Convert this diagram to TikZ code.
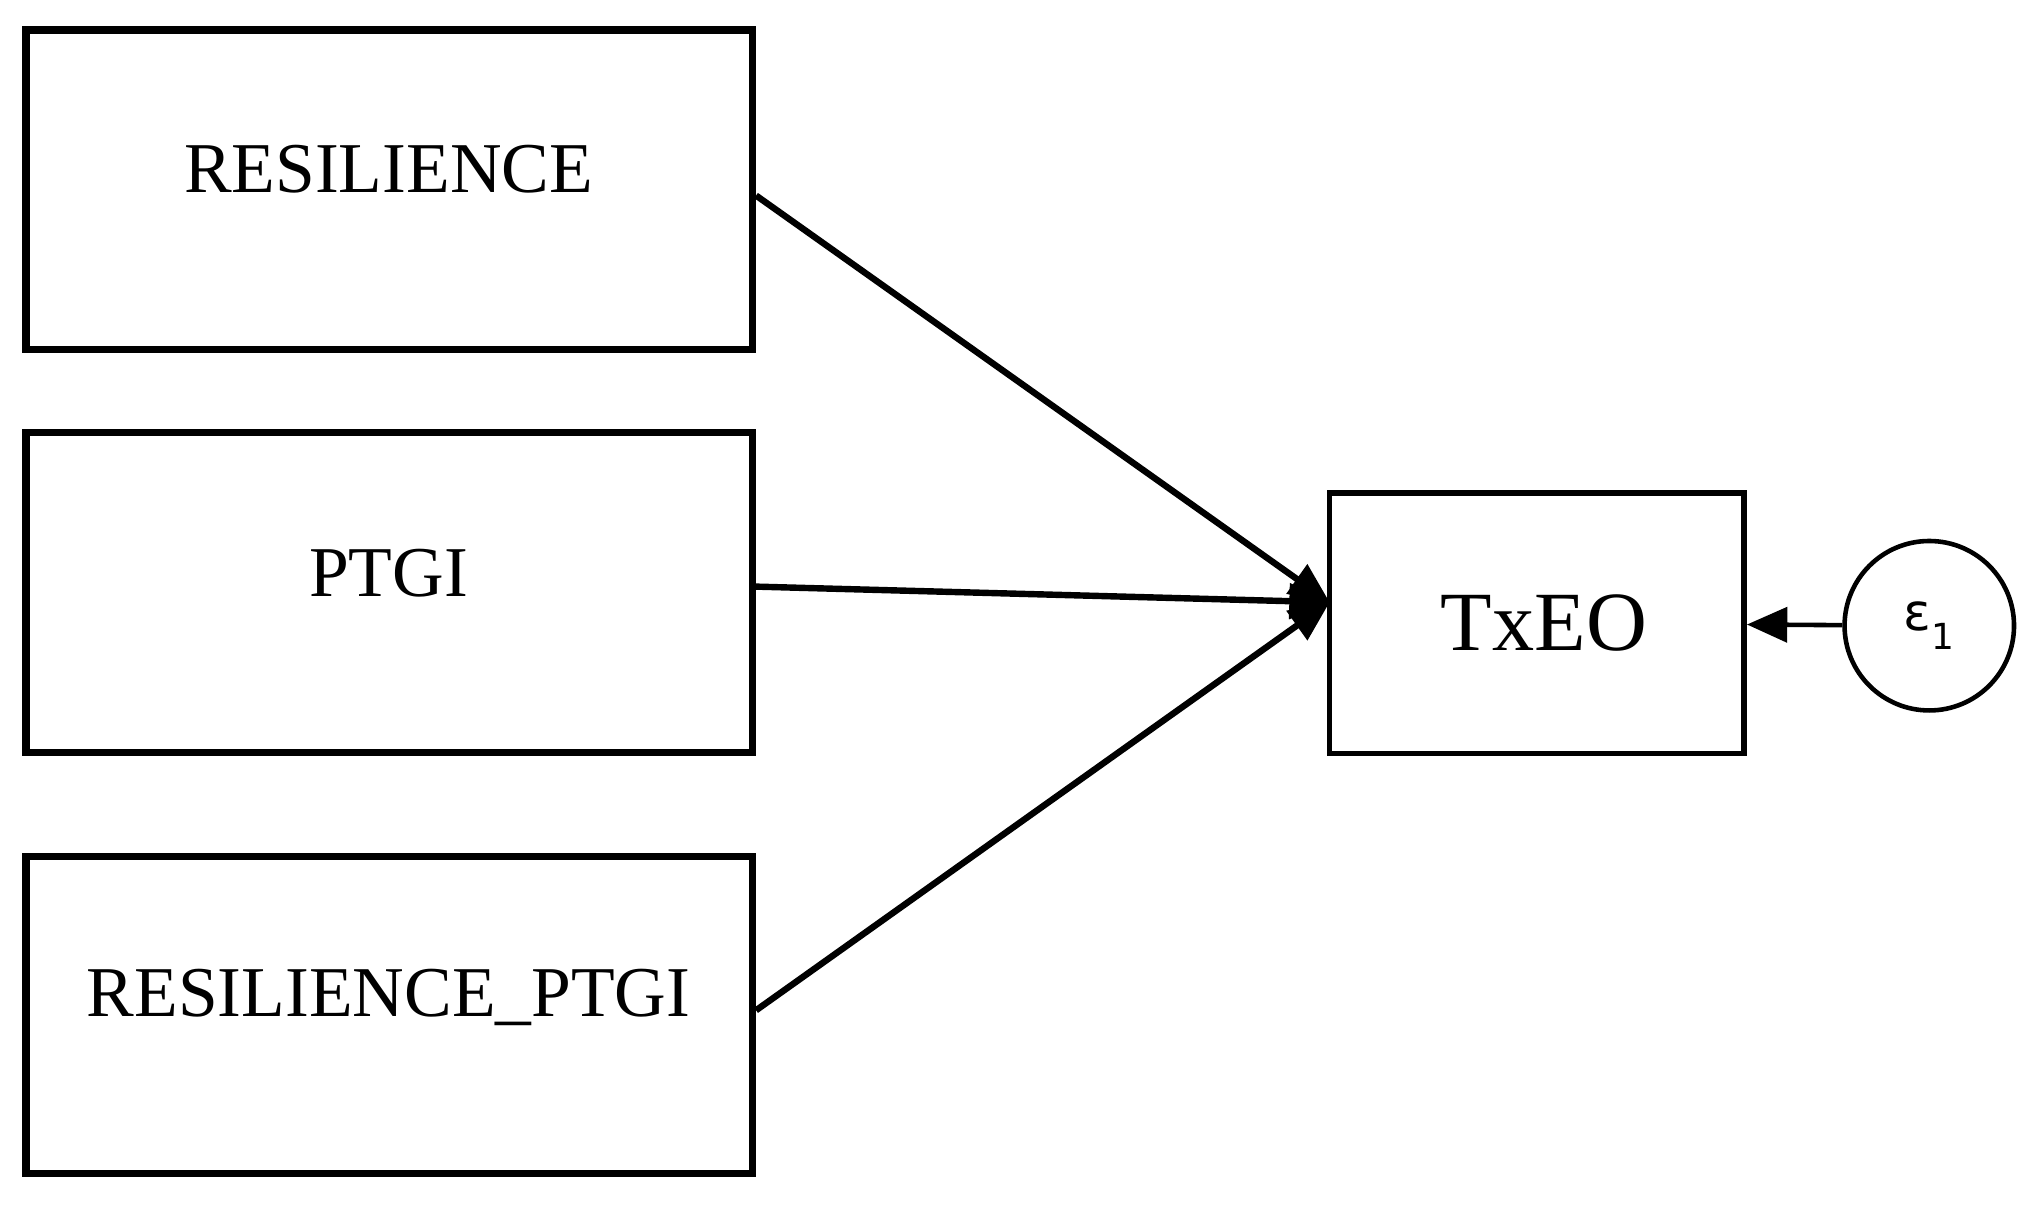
\documentclass[tikz,border=0pt]{standalone}
\usepackage{fontspec}
\setmainfont{Liberation Serif}
\newfontfamily\epsfont{DejaVu Sans}
\usetikzlibrary{arrows.meta}
\begin{document}
\begin{tikzpicture}[x=0.05cm,y=-0.05cm,
  box/.style={draw,line width=8pt},
  lbl/.style={font=\fontsize{78}{90}\selectfont},
  conn/.style={line width=7pt,-{Triangle[length=44pt,width=38pt]}}]
\useasboundingbox (0,0) rectangle (1568,932);
\draw[box] (20,23) rectangle (577,268);
\draw[box] (20,332) rectangle (577,577);
\draw[box] (20,657) rectangle (577,900);
\node[lbl] (r) at (298,130) {RESILIENCE};
\node[lbl] (p) at (298,440) {PTGI};
\node[lbl] (rp) at (298,765) {RESILIENCE\_PTGI};
\coordinate (ra) at (580,150);
\coordinate (pa) at (580,450);
\coordinate (rpa) at (580,775);
\node[draw,line width=6pt,minimum width=318*0.05cm,minimum height=200*0.05cm,font=\fontsize{92}{100}\selectfont] (t) at (1179,478) {\,TxEO};
\node[draw,circle,line width=5pt,minimum size=130*0.05cm,font=\epsfont\fontsize{56}{60}\selectfont] (e) at (1480,480) {ε\textsubscript{1}};
\coordinate (tin) at (1020,462);
\draw[conn] (ra) -- (tin);
\draw[conn] (pa) -- (tin);
\draw[conn] (rpa) -- (tin);
\draw[conn,line width=5pt] (e) -- (t);
\end{tikzpicture}
\end{document}
